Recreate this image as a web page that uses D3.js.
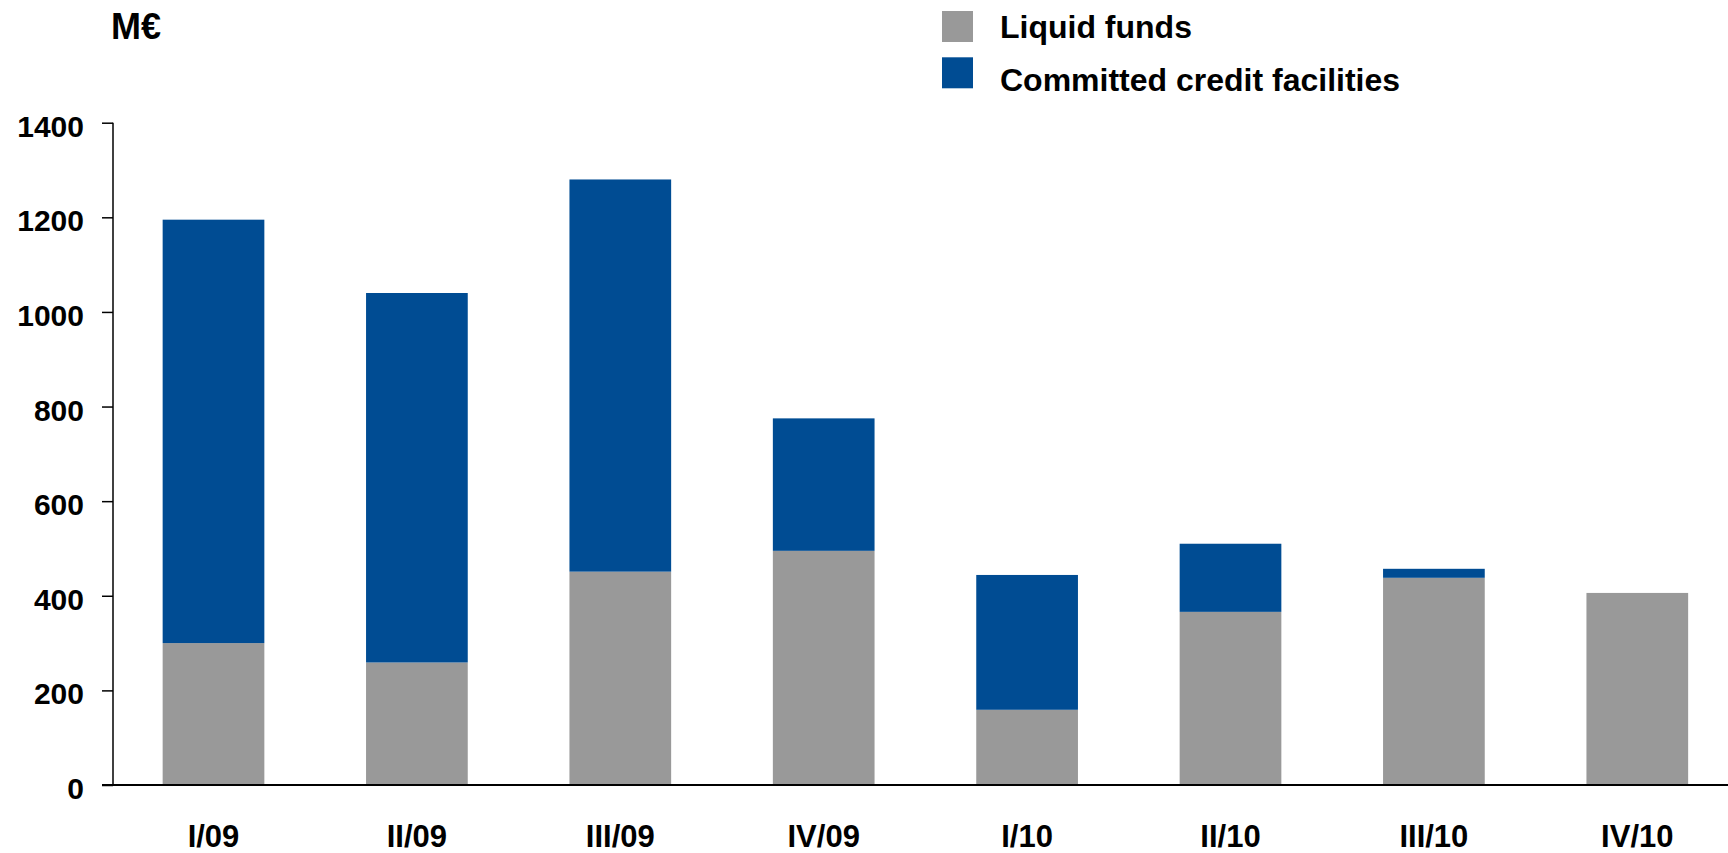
<!DOCTYPE html>
<html>
<head>
<meta charset="utf-8">
<script src="https://cdn.jsdelivr.net/npm/d3@7"></script>
<style>
  body { margin: 0; background: #fff; }
  svg text { font-family: Arial, "Liberation Sans", sans-serif; font-weight: bold; fill: #000; }
</style>
</head>
<body>
<svg id="chart"></svg>
<script>
// quarters
const quarters = ['I/09', 'II/09', 'III/09', 'IV/09', 'I/10', 'II/10', 'III/10', 'IV/10'];
// M€
const liquidFunds = [300, 259, 451, 495, 159, 366, 438, 406];
const creditFacilities = [895, 781, 829, 280, 285, 144, 19, 0];
const yTicks = [0, 200, 400, 600, 800, 1000, 1200, 1400];
const seriesNames = ['Liquid funds', 'Committed credit facilities'];
const seriesColors = ['#999999', '#004c93'];

const W = 1728, H = 853;

const svg = d3.select('#chart')
  .attr('width', W)
  .attr('height', H);

const axisX = 113;
const y0 = 785, yTop = 122.7;

let xScale = d3.scaleBand()
  .domain(quarters)
  .range([111.8, 1739])
  .paddingInner(0.5)
  .paddingOuter(0.25);

let yScale = d3.scaleLinear()
  .domain([0, 1400])
  .range([y0, yTop]);

// stack the two series
const rows = quarters.map((q, i) => ({ q: q, liquid: liquidFunds[i], credit: creditFacilities[i] }));
const stacked = d3.stack().keys(['liquid', 'credit'])(rows);

svg.append('g')
  .selectAll('g')
  .data(stacked)
  .enter()
  .append('g')
  .attr('fill', (d, i) => seriesColors[i])
  .selectAll('rect')
  .data(d => d)
  .enter()
  .append('rect')
  .attr('x', d => xScale(d.data.q))
  .attr('width', xScale.bandwidth())
  .attr('y', d => yScale(d[1]))
  .attr('height', d => yScale(d[0]) - yScale(d[1]));

// y axis
const yAxis = svg.append('g')
  .attr('transform', 'translate(' + axisX + ',0)')
  .call(d3.axisLeft(yScale).tickValues(yTicks).tickSize(11).tickPadding(18).tickFormat(d3.format('d')));

yAxis.select('.domain').remove();
yAxis.selectAll('.tick line').attr('stroke', '#000').attr('stroke-width', 1.5);
yAxis.selectAll('.tick text')
  .attr('font-size', 30)
  .attr('font-family', 'Arial, "Liberation Sans", sans-serif')
  .attr('font-weight', 'bold')
  .attr('fill', '#000')
  .attr('dy', '0.45em');

svg.append('line')
  .attr('x1', axisX).attr('x2', axisX)
  .attr('y1', yTop).attr('y2', y0)
  .attr('stroke', '#000')
  .attr('stroke-width', 1.5);

// baseline
svg.append('line')
  .attr('x1', 102).attr('x2', W)
  .attr('y1', y0).attr('y2', y0)
  .attr('stroke', '#000')
  .attr('stroke-width', 2);

// x labels
svg.append('g')
  .selectAll('text')
  .data(quarters)
  .enter()
  .append('text')
  .attr('x', d => xScale(d) + xScale.bandwidth() / 2)
  .attr('y', 847)
  .attr('text-anchor', 'middle')
  .attr('font-size', 31)
  .text(d => d);

// unit
svg.append('text')
  .attr('x', 111)
  .attr('y', 39)
  .attr('font-size', 36)
  .text('M€');

// legend
const legend = svg.append('g')
  .selectAll('g')
  .data(seriesNames)
  .enter()
  .append('g');

legend.append('rect')
  .attr('x', 942)
  .attr('y', (d, i) => 11 + i * 46.3)
  .attr('width', 31)
  .attr('height', 31)
  .attr('fill', (d, i) => seriesColors[i]);

legend.append('text')
  .attr('x', 1000)
  .attr('y', (d, i) => i === 0 ? 37.5 : 91)
  .attr('font-size', 32)
  .text(d => d);
</script>
</body>
</html>
